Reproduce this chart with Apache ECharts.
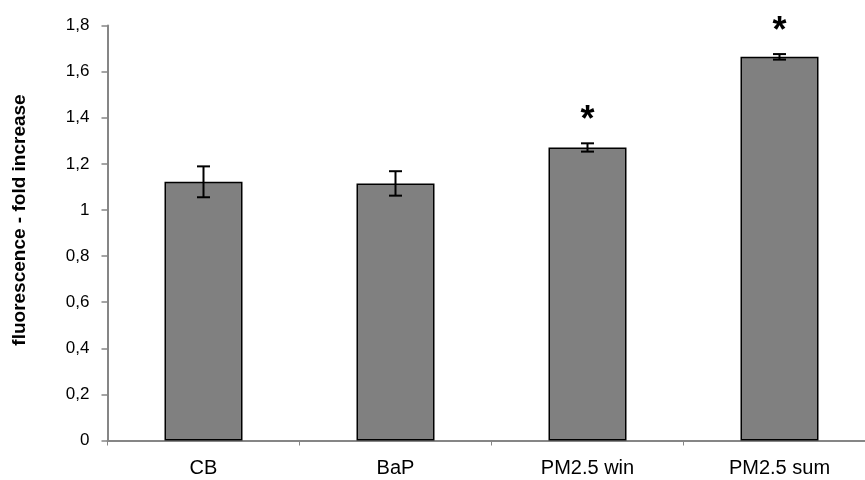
<!DOCTYPE html>
<html>
<head>
<meta charset="utf-8">
<style>
  html, body { margin: 0; padding: 0; background: #fff; }
  #chart { width: 865px; height: 480px; }
</style>
<script src="https://cdn.jsdelivr.net/npm/echarts@6/dist/echarts.min.js"></script>
</head>
<body>
<div id="chart"></div>
<script>
// Fold increase of fluorescence per treatment, with standard deviation
const categories = ['CB', 'BaP', 'PM2.5 win', 'PM2.5 sum'];
const foldIncrease = [1.122, 1.115, 1.271, 1.664];
const stdDev = [0.067, 0.053, 0.018, 0.012];
const significance = ['', '', '*', '*'];
const yTicks = { min: 0, max: 1.8, interval: 0.2 };

const errorData = categories.map((c, i) => [i, foldIncrease[i] - stdDev[i], foldIncrease[i] + stdDev[i], significance[i]]);

const chart = echarts.init(document.getElementById('chart'), null, { renderer: 'canvas' });

const FONT = 'Liberation Sans, Arial, sans-serif';
const AXIS_GREY = '#868686';

chart.setOption({
  animation: false,
  backgroundColor: '#ffffff',
  // the category axis runs past the right edge of the canvas
  grid: { left: 107.5, top: 25.5, width: 768, height: 415, containLabel: false, outerBoundsMode: 'none' },
  graphic: [{
    type: 'text',
    x: 20,
    y: 220,
    rotation: Math.PI / 2,
    style: {
      text: 'fluorescence - fold increase',
      font: 'bold 19px ' + FONT,
      fill: '#000',
      textAlign: 'center',
      textVerticalAlign: 'middle'
    }
  }],
  xAxis: {
    type: 'category',
    data: categories,
    axisLine: { lineStyle: { color: AXIS_GREY, width: 2 } },
    axisTick: { show: true, length: 5, inside: false, lineStyle: { color: AXIS_GREY, width: 1 } },
    axisLabel: { color: '#000', fontFamily: FONT, fontSize: 20, margin: 18 },
    splitLine: { show: false }
  },
  yAxis: {
    type: 'value',
    min: yTicks.min,
    max: yTicks.max,
    interval: yTicks.interval,
    axisLine: { show: true, lineStyle: { color: AXIS_GREY, width: 2 } },
    axisTick: { show: true, length: 6, lineStyle: { color: AXIS_GREY, width: 1.5 } },
    axisLabel: {
      color: '#000', fontFamily: FONT, fontSize: 17, margin: 18,
      formatter: v => String(Math.round(v * 10) / 10).replace('.', ',')
    },
    splitLine: { show: false }
  },
  series: [
    {
      type: 'bar',
      data: foldIncrease,
      barWidth: 78,
      itemStyle: { color: '#808080', borderColor: '#000', borderWidth: 1.5 },
      z: 2
    },
    {
      type: 'custom',
      data: errorData,
      z: 3,
      renderItem: function (params, api) {
        const x = api.value(0);
        const lo = api.coord([x, api.value(1)]);
        const hi = api.coord([x, api.value(2)]);
        const star = api.value(3);
        const half = 6.5;
        const stroke = { stroke: '#000', lineWidth: 2 };
        const children = [
          { type: 'line', shape: { x1: hi[0], y1: hi[1], x2: lo[0], y2: lo[1] }, style: stroke },
          { type: 'line', shape: { x1: hi[0] - half, y1: hi[1], x2: hi[0] + half, y2: hi[1] }, style: stroke },
          { type: 'line', shape: { x1: lo[0] - half, y1: lo[1], x2: lo[0] + half, y2: lo[1] }, style: stroke }
        ];
        if (star) {
          children.push({
            type: 'text',
            x: hi[0],
            y: hi[1] - 22,
            style: {
              text: star,
              font: 'bold 36px ' + FONT,
              fill: '#000',
              textAlign: 'center',
              textVerticalAlign: 'middle'
            }
          });
        }
        return { type: 'group', children: children };
      }
    }
  ]
});
</script>
</body>
</html>
